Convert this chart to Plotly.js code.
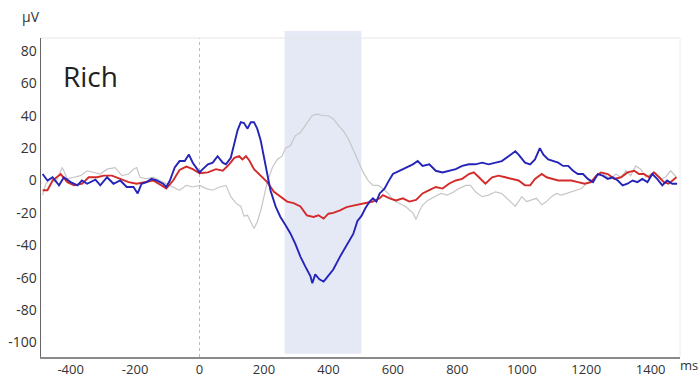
<!DOCTYPE html>
<html>
<head>
<meta charset="utf-8">
<script src="https://cdn.plot.ly/plotly-3.0.1.min.js"></script>
<style>html,body{margin:0;padding:0;background:#fff;}#chart{width:699px;height:377px;}</style>
</head>
<body>
<div id="chart"></div>
<script>
// Time (ms) and amplitude (µV) per condition
var blueTime = [-487,-472,-456,-436,-421,-400,-379,-365,-349,-323,-308,-287,-267,-246,-226,-205,-192,-180,-164,-149,-133,-113,-103,-92,-77,-62,-46,-33,-21,-10,0,10,26,41,56,72,82,97,108,118,128,138,149,159,169,179,190,200,210,220,236,251,267,282,297,313,328,344,350,359,372,385,395,415,436,456,477,490,502,515,528,538,549,559,574,585,600,620,641,662,677,692,713,733,754,774,795,815,836,856,877,897,918,938,959,980,990,1010,1026,1041,1056,1067,1082,1097,1113,1128,1144,1159,1174,1190,1205,1221,1236,1251,1267,1282,1298,1313,1328,1344,1359,1374,1390,1405,1420,1436,1451,1467,1482];
var blueVals = [4,0,2,-3,2,-1,-3,0,-2,0.5,-3,2,-2,0,-4,-4,-8,-2,-1,1,0,-2,-4,0,8,12,12,16,11,8,5,7,10,11,15,11,10,14,22,31,36,35.5,32,36,36,32,24.5,15,4,-6,-16,-22.5,-27.6,-32.7,-39,-47,-53,-59,-63.4,-58,-61,-62.4,-60,-55,-47,-40,-33,-25,-22,-17,-13,-11,-13,-8,-5,-1,4,6,8,10,12,9,10,6,5,6,7,9,10,10,11,10,11,12,15,18,16,11,10,13,20,16,13,12,11,9,9,6,4,4,1,-1,4,3,1,2,0,-3,-2,0,-1,1,-1,4,1,-3,0,-2,-2];

var redTime = [-487,-472,-456,-431,-410,-390,-364,-344,-318,-297,-272,-246,-220,-195,-169,-144,-118,-103,-82,-62,-41,-21,0,26,51,72,92,108,123,133,144,154,169,190,210,231,251,272,292,313,333,354,369,385,400,415,436,456,477,508,538,559,569,590,610,631,651,672,692,713,733,754,774,795,815,836,851,867,887,908,928,949,969,990,1010,1026,1041,1062,1077,1092,1113,1133,1154,1174,1195,1215,1231,1246,1267,1287,1308,1328,1349,1364,1379,1395,1410,1426,1441,1456,1480];
var redVals = [-6,-6,0,4,-1,-3,-2,2,2,3,3,1,-1,-2,-1,0,-3,-5,0,6.5,8.6,7,4.5,5,7,6,10,14,15,13,15,12.5,7,3,-1,-7,-10,-13,-14,-16,-21.5,-22.5,-21.5,-23.5,-20.5,-20,-18.4,-16.4,-15.5,-14,-13,-11,-9,-11,-12.3,-11,-13,-12,-8,-6,-4,-5,-2,0,1,4,5,2,-2,2,3,2,1,0,-3,-3,1,4,2,1,0,0,0,-1,-2,-1,3,5,4,1,2,5,6,4,4,2,5,2,-1,-2,2];

var grayTime = [-487,-477,-462,-446,-426,-410,-390,-369,-349,-328,-308,-287,-262,-241,-220,-205,-195,-185,-164,-144,-123,-103,-82,-62,-41,-21,0,21,41,62,82,97,113,128,138,149,159,169,179,190,200,210,226,241,256,267,282,297,313,333,349,364,385,400,415,431,446,462,477,492,508,523,538,554,569,585,600,620,641,662,672,682,692,708,728,749,769,790,805,826,841,856,877,897,918,938,959,980,1000,1015,1031,1046,1062,1077,1092,1108,1123,1138,1154,1169,1185,1200,1215,1231,1246,1262,1277,1292,1308,1323,1338,1354,1369,1385,1400,1415,1431,1446,1462,1480];
var grayVals = [-9,-2,1,-1,8,1,2,3,6,5,4,7,8,3,4,7,8,2,1,2,0,-2,-4,-6,-3,-4,-3,-5,-6,-4,-3,-10,-14,-16,-22,-21.5,-25.6,-29.6,-25.6,-18.4,-10,-1,8,13,15,20,21.5,27.6,29.6,35.8,40,41,40,40,38,34,30.7,25.6,19,12,5,0,-3,-3,-5,-8,-12,-14,-16.4,-20,-24,-19,-15.3,-12.3,-10,-8,-9,-7,-5,-3,-3,-7,-10,-9,-7,-8,-12,-16,-10,-13,-12,-11,-15,-13,-10,-8,-9,-8,-7,-6,-5,-2,0,2,5,3,1,4,2,6,3,9,7,2,4,5,1,2,6,2];

var xTicks = [-400,-200,0,200,400,600,800,1000,1200,1400];
var yTicks = [-100,-80,-60,-40,-20,0,20,40,60,80];
var windowStart = 264, windowEnd = 502;

var traces = [
  {x: grayTime, y: grayVals, type: 'scatter', mode: 'lines', line: {color: '#c6c6c6', width: 1.2}, hoverinfo: 'skip'},
  {x: redTime, y: redVals, type: 'scatter', mode: 'lines', line: {color: '#d42a2a', width: 1.9}, hoverinfo: 'skip'},
  {x: blueTime, y: blueVals, type: 'scatter', mode: 'lines', line: {color: '#2424b8', width: 1.9}, hoverinfo: 'skip'}
];

var font = {family: 'Open Sans, sans-serif', size: 14, color: '#333'};
var xfont = {family: 'Open Sans, sans-serif', size: 13, color: '#333'};
var layout = {
  width: 699, height: 377,
  margin: {l: 41, r: 19, t: 38, b: 20, pad: 0},
  paper_bgcolor: '#fff', plot_bgcolor: '#fff',
  showlegend: false,
  font: font,
  xaxis: {range: [-492, 1491], tickvals: xTicks, ticktext: xTicks.map(String), showgrid: false, zeroline: false,
          showline: true, linecolor: '#8a8a8a', linewidth: 1.5, ticks: '', tickfont: xfont, fixedrange: true},
  yaxis: {range: [-109, 88], tickvals: yTicks, ticktext: yTicks.map(String), showgrid: false, zeroline: false,
          showline: true, linecolor: '#666', linewidth: 1.5, ticks: '', tickfont: font, fixedrange: true},
  shapes: [
    {type: 'rect', xref: 'x', yref: 'paper', x0: windowStart, x1: windowEnd, y0: 0.01, y1: 1.022,
     fillcolor: '#e5e9f6', line: {width: 0}, layer: 'below'},
    {type: 'line', xref: 'x', yref: 'paper', x0: 0, x1: 0, y0: 0, y1: 1,
     line: {color: '#b8b8b8', width: 1, dash: 'dot'}, layer: 'below'},
    {type: 'line', xref: 'paper', yref: 'paper', x0: 0, x1: 1, y0: 1, y1: 1,
     line: {color: '#e6e6e6', width: 1}, layer: 'below'},
    {type: 'line', xref: 'paper', yref: 'paper', x0: 1, x1: 1, y0: 0, y1: 1,
     line: {color: '#ececec', width: 1}, layer: 'below'}
  ],
  annotations: [
    {text: 'µV', xref: 'paper', yref: 'paper', x: -0.033, y: 1.066, xanchor: 'left', yanchor: 'middle', showarrow: false, font: font},
    {text: 'ms', xref: 'paper', yref: 'paper', x: 0.997, y: -0.025, xanchor: 'left', yanchor: 'middle', showarrow: false, font: xfont},
    {text: 'Rich', xref: 'paper', yref: 'paper', x: 0.031, y: 0.881, xanchor: 'left', yanchor: 'middle', showarrow: false,
     font: {family: 'Open Sans, sans-serif', size: 28, color: '#222'}}
  ]
};

Plotly.newPlot('chart', traces, layout, {displayModeBar: false, staticPlot: true});
</script>
</body>
</html>
